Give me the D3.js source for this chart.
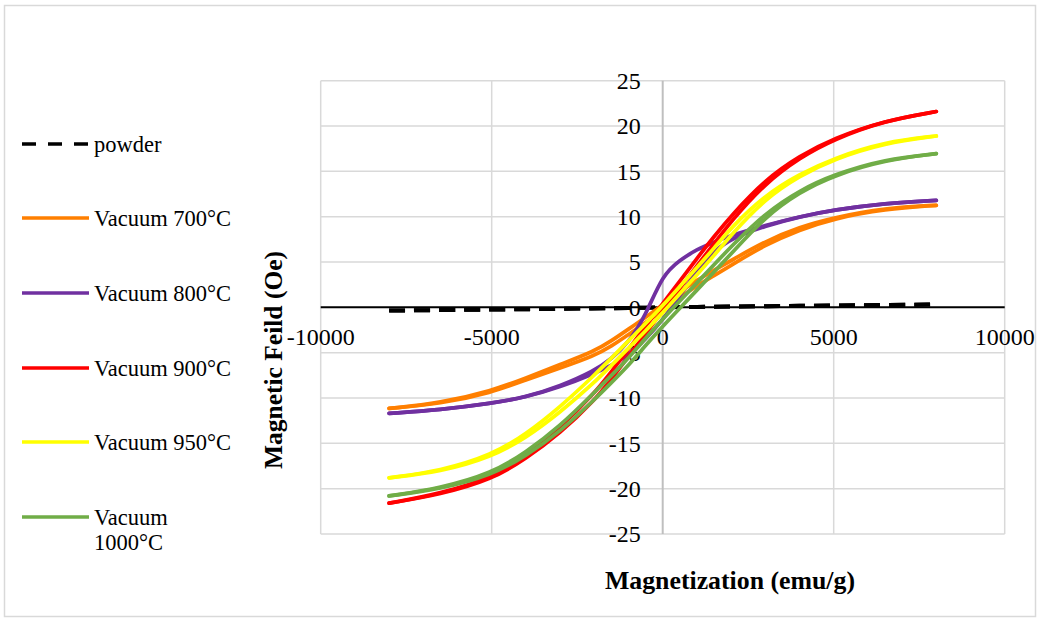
<!DOCTYPE html>
<html>
<head>
<meta charset="utf-8">
<script src="https://cdn.jsdelivr.net/npm/d3@7"></script>
<style>
  html, body { margin: 0; padding: 0; background: #fff; }
  svg { display: block; }
  text { font-family: "Liberation Serif", "Times New Roman", serif; fill: #000; }
</style>
</head>
<body>
<svg id="chart" width="1041" height="620"></svg>
<script>
// ---- Data ----
const magnetization = [-8000,-6500,-5000,-4000,-3000,-2000,-1500,-1000,-500,0,500,1000,1500,2000,3000,4000,5000,6500,8000];

const powderLower = [-0.35,-0.3,-0.25,-0.2,-0.17,-0.12,-0.1,-0.07,-0.03,0,0.03,0.05,0.07,0.09,0.13,0.17,0.2,0.27,0.32];
const powderUpper = [-0.35,-0.3,-0.25,-0.2,-0.17,-0.12,-0.1,-0.07,-0.03,0,0.03,0.05,0.07,0.09,0.13,0.17,0.2,0.27,0.32];

const v700Lower = [-11.15,-10.65,-9.4,-8.0,-6.7,-5.35,-4.3,-3.0,-1.7,-0.3,1.1,2.4,3.5,4.65,6.9,8.55,9.8,10.85,11.26];
const v700Upper = [-11.15,-10.55,-9.2,-7.8,-6.3,-4.85,-3.7,-2.4,-1.1,0.3,1.7,3.0,4.1,5.15,7.3,8.85,9.9,10.95,11.26];

const v800Lower = [-11.7,-11.3,-10.6,-9.9,-8.8,-7.3,-6.4,-5.3,-3.5,-1.4,1.3,4.0,6.2,7.6,9.0,10.0,10.75,11.5,11.8];
const v800Upper = [-11.7,-11.3,-10.6,-9.9,-8.7,-7.0,-5.7,-3.9,-0.9,3.6,5.2,6.4,7.2,7.95,9.05,10.0,10.75,11.5,11.8];

const v900Lower = [-21.6,-20.65,-19.0,-16.7,-13.9,-10.3,-7.9,-5.4,-2.9,-0.4,2.1,4.6,7.0,9.5,13.7,16.5,18.55,20.6,21.6];
const v900Upper = [-21.6,-20.55,-18.8,-16.3,-13.3,-9.5,-7.1,-4.6,-2.1,0.4,2.9,5.4,7.8,10.1,14.1,16.7,18.65,20.6,21.6];

const v950Lower = [-18.8,-18.15,-16.5,-14.4,-11.6,-8.3,-6.4,-4.5,-2.6,-0.6,1.5,3.6,5.7,8.0,12.0,14.5,16.35,18.15,18.9];
const v950Upper = [-18.8,-18.05,-16.3,-14.0,-11.0,-7.5,-5.6,-3.7,-1.8,0.2,2.3,4.4,6.5,8.8,12.4,14.7,16.45,18.25,18.9];

const v1000Lower = [-20.8,-20.05,-18.5,-16.4,-13.7,-10.2,-8.3,-6.4,-4.2,-2.1,-0.1,1.9,3.9,5.9,10.0,12.7,14.55,16.25,16.95];
const v1000Upper = [-20.8,-19.95,-18.3,-16.0,-13.1,-9.4,-7.5,-5.6,-3.4,-1.3,0.7,2.7,4.7,6.7,10.4,12.9,14.65,16.35,16.95];

const seriesNames = ["powder", "Vacuum 700°C", "Vacuum 800°C", "Vacuum 900°C", "Vacuum 950°C", "Vacuum 1000°C"];
const seriesColors = ["#000000", "#FF7F00", "#7030A0", "#FF0000", "#FFFF00", "#70AD47"];
const seriesLower = [powderLower, v700Lower, v800Lower, v900Lower, v950Lower, v1000Lower];
const seriesUpper = [powderUpper, v700Upper, v800Upper, v900Upper, v950Upper, v1000Upper];

const xTicks = [-10000, -5000, 0, 5000, 10000];
const yTicks = [-25, -20, -15, -10, -5, 0, 5, 10, 15, 20, 25];

// ---- Layout ----
const svg = d3.select("#chart");
const x = d3.scaleLinear().domain([-10000, 10000]).range([320.7, 1004.7]);
const y = d3.scaleLinear().domain([-25, 25]).range([534, 80.7]);

// outer border
svg.append("rect").attr("x", 4.5).attr("y", 5.5).attr("width", 1031).attr("height", 611)
  .attr("fill", "#fff").attr("stroke", "#d9d9d9").attr("stroke-width", 1.5);

// gridlines
const grid = svg.append("g");
grid.selectAll("line.h").data(yTicks.filter(d => d !== 0)).enter().append("line")
  .attr("x1", x(-10000)).attr("x2", x(10000))
  .attr("y1", d => y(d)).attr("y2", d => y(d))
  .attr("stroke", "#d9d9d9").attr("stroke-width", 1.5);
grid.selectAll("line.v").data(xTicks.filter(d => d !== 0)).enter().append("line")
  .attr("y1", y(25)).attr("y2", y(-25))
  .attr("x1", d => x(d)).attr("x2", d => x(d))
  .attr("stroke", "#d9d9d9").attr("stroke-width", 1.5);

// vertical axis (gray) at x=0
svg.append("line").attr("x1", x(0)).attr("x2", x(0)).attr("y1", y(25)).attr("y2", y(-25))
  .attr("stroke", "#bfbfbf").attr("stroke-width", 2);

// horizontal axis (black) at y=0
svg.append("line").attr("x1", x(-10000)).attr("x2", x(10000)).attr("y1", y(0)).attr("y2", y(0))
  .attr("stroke", "#000").attr("stroke-width", 2);

// tick labels
svg.append("g").selectAll("text").data(yTicks).enter().append("text")
  .attr("x", x(0) - 22).attr("y", d => y(d))
  .attr("dy", "0.34em")
  .attr("text-anchor", "end")
  .style("font-size", "24px")
  .text(d => d);
svg.append("g").selectAll("text").data(xTicks).enter().append("text")
  .attr("x", d => x(d)).attr("y", y(0) + 29)
  .attr("dy", "0.34em")
  .attr("text-anchor", "middle")
  .style("font-size", "24px")
  .text(d => d);

// axis titles
svg.append("text").attr("x", 730).attr("y", 580).attr("dy", "0.34em")
  .attr("text-anchor", "middle").style("font-size", "25.8px").style("font-weight", "bold")
  .text("Magnetization (emu/g)");
svg.append("text").attr("transform", "translate(273,360) rotate(-90)").attr("dy", "0.34em")
  .attr("text-anchor", "middle").style("font-size", "25.5px").style("font-weight", "bold")
  .text("Magnetic Feild (Oe)");

// series
const line = d3.line().x(d => x(d[0])).y(d => y(d[1])).curve(d3.curveBasis);
const plot = svg.append("g");
seriesNames.forEach((name, i) => {
  const lower = magnetization.map((m, k) => [m, seriesLower[i][k]]);
  const upper = magnetization.map((m, k) => [m, seriesUpper[i][k]]);
  [lower, upper].forEach(pts => {
    const p = plot.append("path").attr("d", line(pts))
      .attr("fill", "none").attr("stroke", seriesColors[i])
      .attr("stroke-width", i === 0 ? 4 : 3.75)
      .attr("stroke-linejoin", "round");
    if (i === 0) p.attr("stroke-dasharray", "16,9");
    else p.attr("stroke-linecap", "round");
  });
});

// legend
const legendY = [144, 218, 293, 368, 442, 517];
const legend = svg.append("g");
seriesNames.forEach((name, i) => {
  const ly = legendY[i];
  const l = legend.append("line").attr("x1", 22).attr("x2", 89).attr("y1", ly).attr("y2", ly)
    .attr("stroke", seriesColors[i]).attr("stroke-width", 3.5);
  if (i === 0) l.attr("stroke-dasharray", "14,12");
  const t = legend.append("text").attr("x", 94).attr("y", ly).attr("dy", "0.34em")
    .style("font-size", "22.5px");
  if (name === "Vacuum 1000°C") {
    t.append("tspan").attr("x", 94).text("Vacuum");
    t.append("tspan").attr("x", 94).attr("dy", "25").text("1000°C");
  } else {
    t.text(name);
  }
});
</script>
</body>
</html>
